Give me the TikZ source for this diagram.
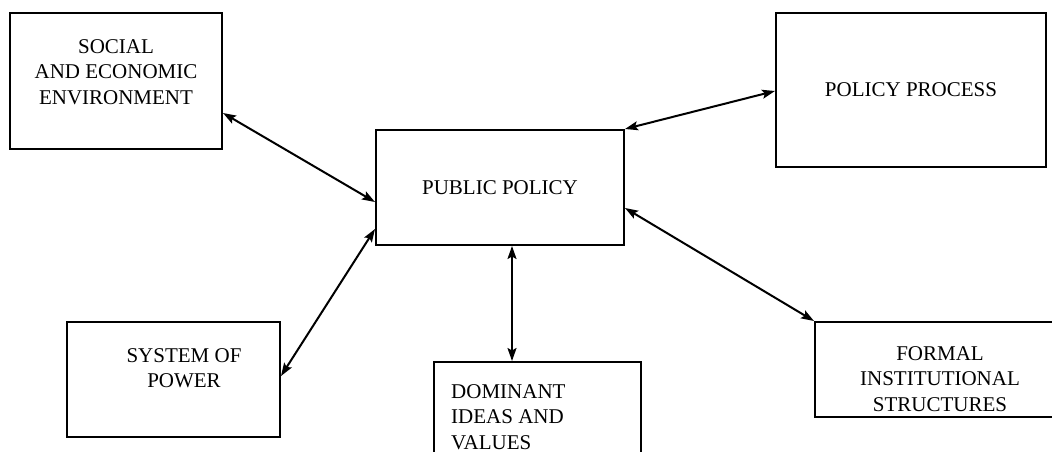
\documentclass[tikz,border=0pt]{standalone}
\usepackage{fontspec}
\setmainfont{Liberation Serif}
\usetikzlibrary{arrows.meta}
\begin{document}
\begin{tikzpicture}[x=1pt,y=-1pt,
  box/.style={draw, line width=2pt, rectangle, inner sep=0pt},
  txt/.style={font=\fontsize{21}{25.5}\selectfont, align=center, inner sep=0pt},
  link/.style={line width=2pt, {Stealth[length=13pt,width=9pt,inset=2.5pt]}-{Stealth[length=13pt,width=9pt,inset=2.5pt]}}]
\useasboundingbox (0,0) rectangle (1052,452);
\clip (0,0) rectangle (1052,452);
% boxes
\node[box, minimum width=212pt, minimum height=136pt] (soc) at (116,81) {};
\node[txt] (soct) at (116,72) {SOCIAL\\AND ECONOMIC\\ENVIRONMENT};
\node[box, txt, minimum width=248pt, minimum height=115pt] (pp) at (500,187.5) {PUBLIC POLICY};
\node[box, txt, minimum width=270pt, minimum height=154pt] (proc) at (911,90) {POLICY PROCESS};
\node[box, minimum width=213pt, minimum height=115pt] (pow) at (173.5,379.5) {};
\node[txt] (powt) at (184,368) {SYSTEM OF\\POWER};
\node[box, minimum width=207pt, minimum height=120pt] (dom) at (537.5,422) {};
\node[txt, align=left, anchor=west] (domt) at (451,417) {DOMINANT\\IDEAS AND\\VALUES};
\node[box, minimum width=260pt, minimum height=95pt] (fin) at (945,369.5) {};
\node[txt] (fint) at (940,379) {FORMAL\\INSTITUTIONAL\\STRUCTURES};
% connectors
\draw[link] ([yshift=37pt]soc.south east) -- ([yshift=-73pt]pp.north west);
\draw[link] ([yshift=-55pt]pow.north east) -- ([yshift=17pt]pp.south west);
\draw[link] ([xshift=12pt]pp.south) -- ([xshift=12pt]pp.south |- dom.north);
\draw[link] (pp.north east) -- ([yshift=-79pt]proc.north west);
\draw[link] ([yshift=-79pt]pp.north east) -- (fin.north west);
\end{tikzpicture}
\end{document}
